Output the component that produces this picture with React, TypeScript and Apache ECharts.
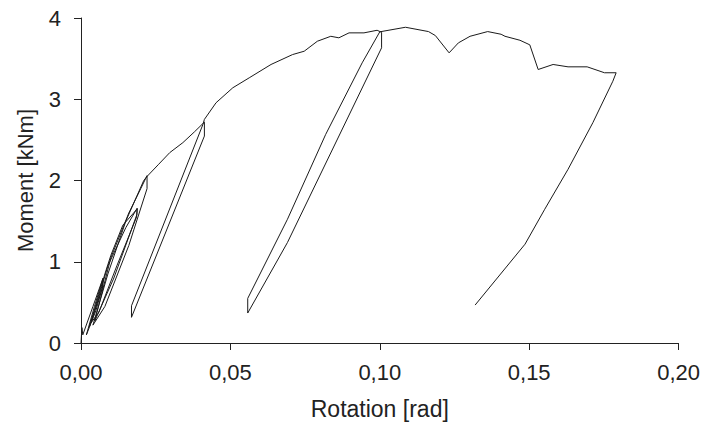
import React, { useEffect, useRef } from "react";
import * as echarts from "echarts";

const rotation: number[] = [
  0, 0.0003, 0.0006, 0.004, 0.0073, 0.0073, 0.005, 0.0018, 0.0045, 0.0074, 0.0072, 0.0028,
  0.008, 0.01, 0.014, 0.0188, 0.0186, 0.012, 0.006, 0.0034, 0.009, 0.015, 0.0188, 0.0187,
  0.011, 0.0046, 0.01, 0.016, 0.02, 0.0221, 0.0221, 0.016, 0.008, 0.004, 0.009, 0.015,
  0.021, 0.0221, 0.026, 0.0297, 0.0341, 0.038, 0.0413, 0.0413, 0.0169, 0.0169, 0.0408,
  0.0413, 0.0452, 0.0508, 0.0563, 0.0636, 0.0708, 0.0747, 0.0791, 0.0836, 0.0863, 0.0897,
  0.0947, 0.0991, 0.1006, 0.1006, 0.0691, 0.0558, 0.0558, 0.0691, 0.0819, 0.0941, 0.1,
  0.1086, 0.1163, 0.1186, 0.1232, 0.1263, 0.1302, 0.1361, 0.1406, 0.1419, 0.1469, 0.1502,
  0.153, 0.158, 0.163, 0.1694, 0.1752, 0.1791, 0.178, 0.1713, 0.163, 0.1552, 0.1486, 0.1319,
];

const moment: number[] = [
  0, 0.19, 0.1, 0.45, 0.79, 0.7, 0.4, 0.1, 0.45, 0.8, 0.68, 0.2,
  0.85, 1.08, 1.45, 1.65, 1.55, 0.95, 0.38, 0.25, 0.95, 1.42, 1.66, 1.58,
  0.8, 0.27, 1.05, 1.6, 1.9, 2.06, 1.9, 1.2, 0.45, 0.22, 0.85, 1.5,
  2.0, 2.05, 2.2, 2.343, 2.466, 2.6, 2.719, 2.547, 0.316, 0.458, 2.69,
  2.752, 2.957, 3.141, 3.264, 3.428, 3.55, 3.591, 3.714, 3.775, 3.756, 3.817,
  3.817, 3.849, 3.824, 3.633, 1.237, 0.369, 0.549, 1.523, 2.568, 3.448, 3.83,
  3.886, 3.833, 3.784, 3.571, 3.694, 3.775, 3.833, 3.8, 3.775, 3.726, 3.67,
  3.366, 3.428, 3.399, 3.399, 3.326, 3.326, 3.222, 2.711, 2.138, 1.646, 1.216, 0.467,
];

const xTitle = "Rotation [rad]";
const yTitle = "Moment [kNm]";

export default function App() {
  const ref = useRef<HTMLDivElement>(null);
  useEffect(() => {
    document.body.style.margin = "0";
    if (!ref.current) return;
    const chart = echarts.init(ref.current, undefined, { renderer: "svg" });
    const font = "'Liberation Sans', Arial, sans-serif";
    const data = rotation.map((r, i) => [r, moment[i]]);
    chart.setOption({
      animation: false,
      backgroundColor: "#ffffff",
      grid: { left: 81, right: 22, top: 18, bottom: 81, containLabel: false },
      xAxis: {
        type: "value",
        min: 0,
        max: 0.2,
        interval: 0.05,
        name: xTitle,
        nameLocation: "middle",
        nameGap: 54,
        nameTextStyle: { fontFamily: font, fontSize: 23, color: "#222" },
        axisLine: { show: true, lineStyle: { color: "#222", width: 1 } },
        axisTick: { show: true, inside: false, length: 7, lineStyle: { color: "#222" } },
        axisLabel: {
          fontFamily: font,
          fontSize: 22,
          color: "#222",
          margin: 18,
          formatter: (v: number) => v.toFixed(2).replace(".", ","),
        },
        splitLine: { show: false },
      },
      yAxis: {
        type: "value",
        min: 0,
        max: 4,
        interval: 1,
        name: yTitle,
        nameLocation: "middle",
        nameGap: 45,
        nameTextStyle: { fontFamily: font, fontSize: 22, color: "#222" },
        axisLine: { show: true, lineStyle: { color: "#222", width: 1 } },
        axisTick: { show: true, inside: false, length: 7, lineStyle: { color: "#222" } },
        axisLabel: { fontFamily: font, fontSize: 22, color: "#222", margin: 20 },
        splitLine: { show: false },
      },
      series: [
        {
          type: "line",
          data,
          showSymbol: false,
          symbol: "none",
          lineStyle: { color: "#1a1a1a", width: 1 },
        },
      ],
    });
    return () => chart.dispose();
  }, []);
  return <div ref={ref} style={{ width: 703, height: 425 }} />;
}
